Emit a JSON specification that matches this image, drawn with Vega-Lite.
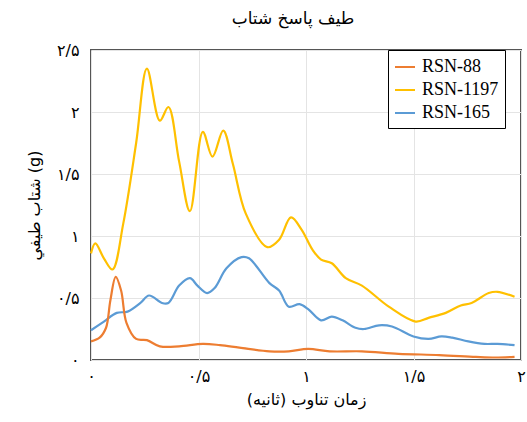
{
  "$schema": "https://vega.github.io/schema/vega-lite/v6.json",
  "width": 430,
  "height": 310,
  "autosize": {"type": "none"},
  "padding": {"left": 91, "top": 50, "right": 6, "bottom": 62},
  "background": "white",
  "title": {
    "text": "طيف پاسخ شتاب",
    "font": "DejaVu Sans",
    "fontSize": 17,
    "fontWeight": "normal",
    "color": "#000000",
    "anchor": "middle",
    "dx": -13,
    "offset": 14
  },
  "config": {
    "view": {"stroke": "#555555", "strokeWidth": 2},
    "axis": {"gridColor": "#e4e4e4", "gridWidth": 1, "domain": false, "ticks": false}
  },
  "data": {
    "values": [
      {"s": "RSN-1197", "x": 0, "y": 0.86},
      {"s": "RSN-1197", "x": 0.02, "y": 0.94},
      {"s": "RSN-1197", "x": 0.06, "y": 0.82},
      {"s": "RSN-1197", "x": 0.1, "y": 0.73},
      {"s": "RSN-1197", "x": 0.15, "y": 1.1},
      {"s": "RSN-1197", "x": 0.21, "y": 1.75},
      {"s": "RSN-1197", "x": 0.26, "y": 2.35},
      {"s": "RSN-1197", "x": 0.32, "y": 1.93},
      {"s": "RSN-1197", "x": 0.36, "y": 2.04},
      {"s": "RSN-1197", "x": 0.41, "y": 1.6},
      {"s": "RSN-1197", "x": 0.46, "y": 1.2},
      {"s": "RSN-1197", "x": 0.52, "y": 1.84},
      {"s": "RSN-1197", "x": 0.565, "y": 1.64},
      {"s": "RSN-1197", "x": 0.615, "y": 1.85},
      {"s": "RSN-1197", "x": 0.66, "y": 1.58},
      {"s": "RSN-1197", "x": 0.72, "y": 1.18},
      {"s": "RSN-1197", "x": 0.82, "y": 0.91},
      {"s": "RSN-1197", "x": 0.875, "y": 0.97},
      {"s": "RSN-1197", "x": 0.93, "y": 1.15},
      {"s": "RSN-1197", "x": 0.98, "y": 1.05},
      {"s": "RSN-1197", "x": 1.03, "y": 0.89},
      {"s": "RSN-1197", "x": 1.07, "y": 0.81},
      {"s": "RSN-1197", "x": 1.12, "y": 0.78},
      {"s": "RSN-1197", "x": 1.185, "y": 0.66},
      {"s": "RSN-1197", "x": 1.26, "y": 0.6},
      {"s": "RSN-1197", "x": 1.385, "y": 0.43},
      {"s": "RSN-1197", "x": 1.51, "y": 0.31},
      {"s": "RSN-1197", "x": 1.57, "y": 0.34},
      {"s": "RSN-1197", "x": 1.65, "y": 0.38},
      {"s": "RSN-1197", "x": 1.72, "y": 0.44},
      {"s": "RSN-1197", "x": 1.77, "y": 0.46},
      {"s": "RSN-1197", "x": 1.85, "y": 0.54},
      {"s": "RSN-1197", "x": 1.89, "y": 0.55},
      {"s": "RSN-1197", "x": 1.97, "y": 0.51},
      {"s": "RSN-165", "x": 0, "y": 0.24},
      {"s": "RSN-165", "x": 0.06, "y": 0.31},
      {"s": "RSN-165", "x": 0.12, "y": 0.38},
      {"s": "RSN-165", "x": 0.17, "y": 0.39},
      {"s": "RSN-165", "x": 0.23, "y": 0.46},
      {"s": "RSN-165", "x": 0.27, "y": 0.52},
      {"s": "RSN-165", "x": 0.33, "y": 0.46},
      {"s": "RSN-165", "x": 0.36, "y": 0.46},
      {"s": "RSN-165", "x": 0.41, "y": 0.6},
      {"s": "RSN-165", "x": 0.46, "y": 0.66},
      {"s": "RSN-165", "x": 0.495, "y": 0.6},
      {"s": "RSN-165", "x": 0.54, "y": 0.54},
      {"s": "RSN-165", "x": 0.575, "y": 0.58},
      {"s": "RSN-165", "x": 0.63, "y": 0.74},
      {"s": "RSN-165", "x": 0.7, "y": 0.83},
      {"s": "RSN-165", "x": 0.735, "y": 0.82},
      {"s": "RSN-165", "x": 0.83, "y": 0.62},
      {"s": "RSN-165", "x": 0.875, "y": 0.56},
      {"s": "RSN-165", "x": 0.92, "y": 0.43},
      {"s": "RSN-165", "x": 0.97, "y": 0.45},
      {"s": "RSN-165", "x": 1.01, "y": 0.41},
      {"s": "RSN-165", "x": 1.07, "y": 0.32},
      {"s": "RSN-165", "x": 1.12, "y": 0.35},
      {"s": "RSN-165", "x": 1.17, "y": 0.32},
      {"s": "RSN-165", "x": 1.23, "y": 0.26},
      {"s": "RSN-165", "x": 1.27, "y": 0.25},
      {"s": "RSN-165", "x": 1.34, "y": 0.28},
      {"s": "RSN-165", "x": 1.4, "y": 0.27},
      {"s": "RSN-165", "x": 1.5, "y": 0.19},
      {"s": "RSN-165", "x": 1.57, "y": 0.17},
      {"s": "RSN-165", "x": 1.63, "y": 0.19},
      {"s": "RSN-165", "x": 1.68, "y": 0.18},
      {"s": "RSN-165", "x": 1.755, "y": 0.15},
      {"s": "RSN-165", "x": 1.83, "y": 0.13},
      {"s": "RSN-165", "x": 1.89, "y": 0.13},
      {"s": "RSN-165", "x": 1.97, "y": 0.12},
      {"s": "RSN-88", "x": 0, "y": 0.15},
      {"s": "RSN-88", "x": 0.04, "y": 0.18},
      {"s": "RSN-88", "x": 0.07, "y": 0.26},
      {"s": "RSN-88", "x": 0.09, "y": 0.48},
      {"s": "RSN-88", "x": 0.115, "y": 0.67},
      {"s": "RSN-88", "x": 0.14, "y": 0.56},
      {"s": "RSN-88", "x": 0.165, "y": 0.3},
      {"s": "RSN-88", "x": 0.21, "y": 0.17},
      {"s": "RSN-88", "x": 0.26, "y": 0.16},
      {"s": "RSN-88", "x": 0.32, "y": 0.11},
      {"s": "RSN-88", "x": 0.41, "y": 0.11},
      {"s": "RSN-88", "x": 0.52, "y": 0.13},
      {"s": "RSN-88", "x": 0.6, "y": 0.12},
      {"s": "RSN-88", "x": 0.69, "y": 0.1},
      {"s": "RSN-88", "x": 0.83, "y": 0.07},
      {"s": "RSN-88", "x": 0.92, "y": 0.07},
      {"s": "RSN-88", "x": 1.01, "y": 0.09},
      {"s": "RSN-88", "x": 1.11, "y": 0.07},
      {"s": "RSN-88", "x": 1.26, "y": 0.07},
      {"s": "RSN-88", "x": 1.43, "y": 0.05},
      {"s": "RSN-88", "x": 1.62, "y": 0.04},
      {"s": "RSN-88", "x": 1.79, "y": 0.025},
      {"s": "RSN-88", "x": 1.88, "y": 0.02},
      {"s": "RSN-88", "x": 1.97, "y": 0.025}
    ]
  },
  "mark": {"type": "line", "interpolate": "catmull-rom", "strokeWidth": 2.2},
  "encoding": {
    "x": {
      "field": "x",
      "type": "quantitative",
      "scale": {"domain": [0, 2], "nice": false, "zero": false},
      "axis": {
        "values": [0, 0.5, 1, 1.5, 2],
        "labelExpr": "datum.value == 0 ? '۰' : datum.value == 0.5 ? '۰/۵' : datum.value == 1 ? '۱' : datum.value == 1.5 ? '۱/۵' : '۲'",
        "labelFont": "DejaVu Sans",
        "labelFontSize": 16,
        "labelColor": "#000000",
        "labelPadding": 8,
        "labelFlush": false,
        "title": "زمان تناوب (ثانيه)",
        "titleFont": "DejaVu Sans",
        "titleFontSize": 16,
        "titleFontWeight": "normal",
        "titleColor": "#000000",
        "titlePadding": 7
      }
    },
    "y": {
      "field": "y",
      "type": "quantitative",
      "scale": {"domain": [0, 2.5], "nice": false},
      "axis": {
        "values": [0, 0.5, 1, 1.5, 2, 2.5],
        "labelExpr": "datum.value == 0 ? '۰' : datum.value == 0.5 ? '۰/۵' : datum.value == 1 ? '۱' : datum.value == 1.5 ? '۱/۵' : datum.value == 2 ? '۲' : '۲/۵'",
        "labelFont": "DejaVu Sans",
        "labelFontSize": 16,
        "labelColor": "#000000",
        "labelPadding": 12,
        "labelFlush": false,
        "title": "شتاب طيفي (g)",
        "titleFont": "DejaVu Sans",
        "titleFontSize": 16,
        "titleFontWeight": "normal",
        "titleColor": "#000000",
        "titlePadding": 14
      }
    },
    "color": {
      "field": "s",
      "type": "nominal",
      "scale": {"domain": ["RSN-88", "RSN-1197", "RSN-165"], "range": ["#ED7D31", "#FFC000", "#5B9BD5"]},
      "legend": {
        "title": null,
        "orient": "none",
        "legendX": 297,
        "legendY": 0,
        "symbolType": "stroke",
        "symbolSize": 400,
        "symbolStrokeWidth": 2,
        "labelFont": "Liberation Serif",
        "labelFontSize": 18,
        "labelColor": "#000000",
        "labelOffset": 6,
        "rowPadding": 3,
        "padding": 6,
        "strokeColor": "#000000",
        "fillColor": "white",
        "labelLimit": 200
      }
    }
  }
}
